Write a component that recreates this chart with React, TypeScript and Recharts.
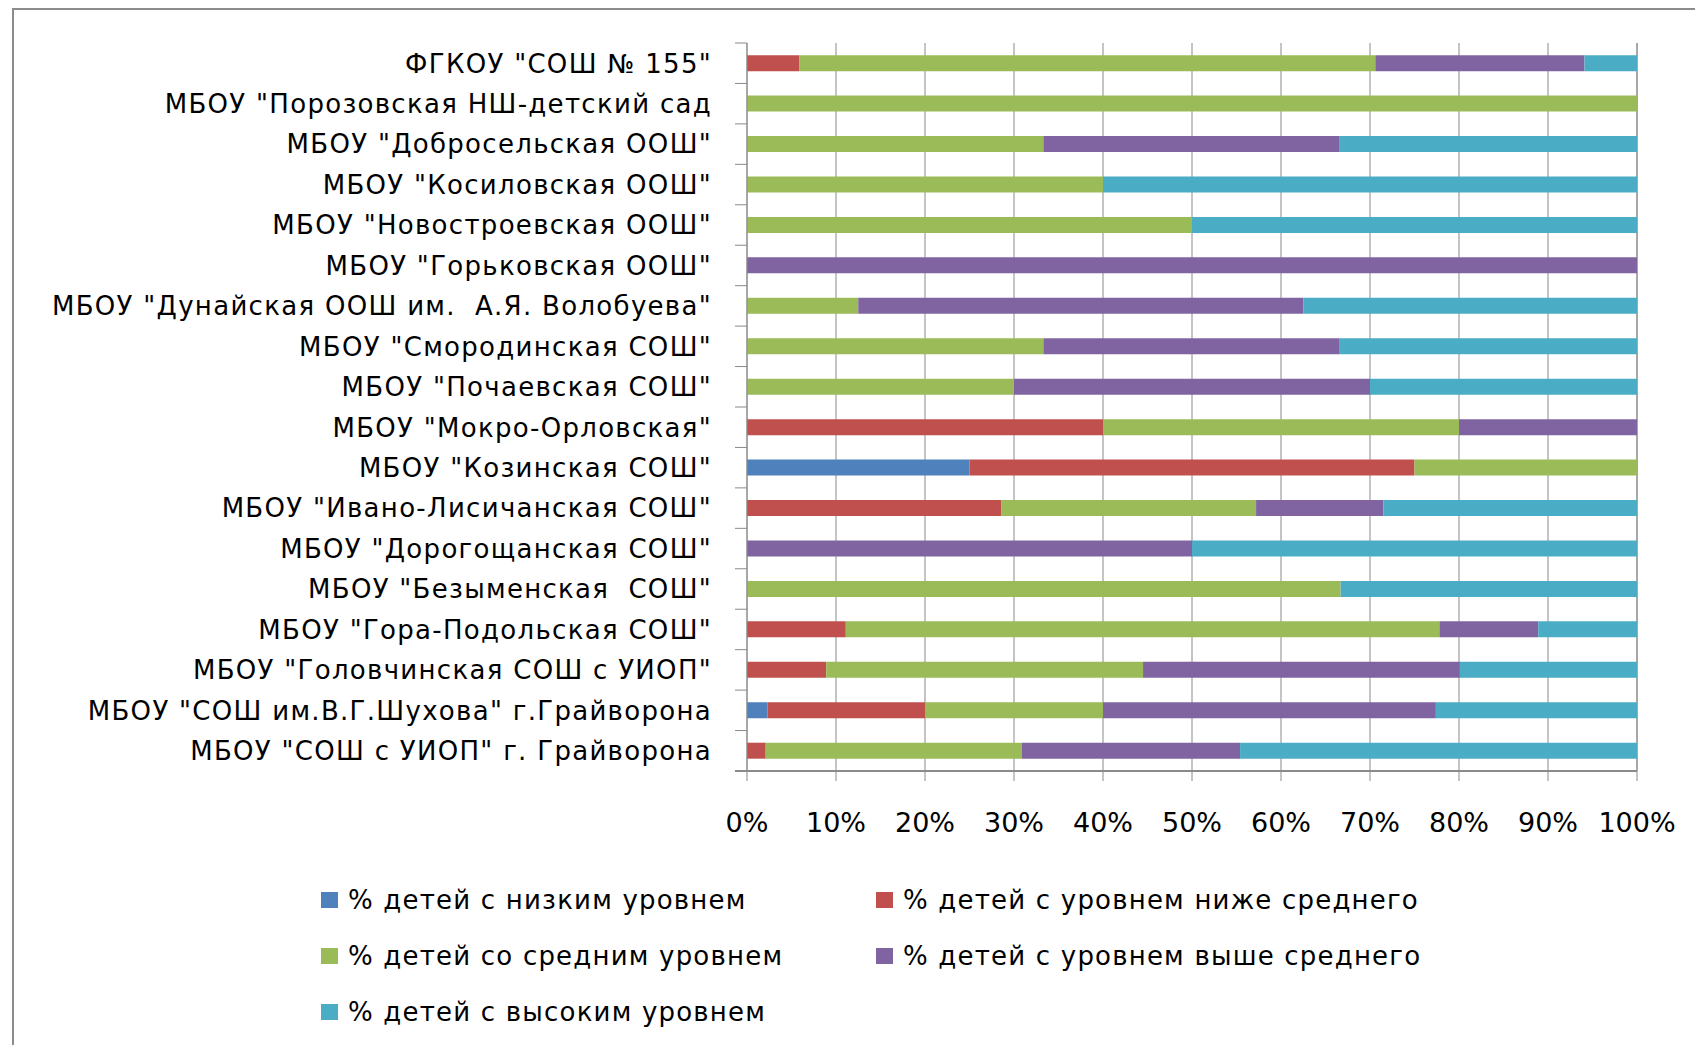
import { BarChart, Bar, XAxis, YAxis, CartesianGrid } from "recharts"

const categories = [
    'ФГКОУ "СОШ № 155"',
    'МБОУ "Порозовская НШ-детский сад',
    'МБОУ "Добросельская ООШ"',
    'МБОУ "Косиловская ООШ"',
    'МБОУ "Новостроевская ООШ"',
    'МБОУ "Горьковская ООШ"',
    'МБОУ "Дунайская ООШ им.  А.Я. Волобуева"',
    'МБОУ "Смородинская СОШ"',
    'МБОУ "Почаевская СОШ"',
    'МБОУ "Мокро-Орловская"',
    'МБОУ "Козинская СОШ"',
    'МБОУ "Ивано-Лисичанская СОШ"',
    'МБОУ "Дорогощанская СОШ"',
    'МБОУ "Безыменская  СОШ"',
    'МБОУ "Гора-Подольская СОШ"',
    'МБОУ "Головчинская СОШ с УИОП"',
    'МБОУ "СОШ им.В.Г.Шухова" г.Грайворона',
    'МБОУ "СОШ с УИОП" г. Грайворона',
]

const low = [0, 0, 0, 0, 0, 0, 0, 0, 0, 0, 25, 0, 0, 0, 0, 0, 2.3, 0]
const belowAvg = [5.9, 0, 0, 0, 0, 0, 0, 0, 0, 40, 50, 28.6, 0, 0, 11.1, 8.9, 17.7, 2.1]
const average = [64.7, 100, 33.3, 40, 50, 0, 12.5, 33.3, 30, 40, 25, 28.6, 0, 66.7, 66.7, 35.6, 20, 28.8]
const aboveAvg = [23.5, 0, 33.3, 0, 0, 100, 50, 33.3, 40, 20, 0, 14.3, 50, 0, 11.1, 35.6, 37.4, 24.5]
const high = [5.9, 0, 33.4, 60, 50, 0, 37.5, 33.4, 30, 0, 0, 28.5, 50, 33.3, 11.1, 19.9, 22.6, 44.6]

const xTicks = [0, 10, 20, 30, 40, 50, 60, 70, 80, 90, 100]

const series = [
    { key: "low", name: "% детей с низким уровнем", color: "#4F81BD" },
    { key: "belowAvg", name: "% детей с уровнем ниже среднего", color: "#C0504D" },
    { key: "average", name: "% детей со средним уровнем", color: "#9BBB59" },
    { key: "aboveAvg", name: "% детей с уровнем выше среднего", color: "#8064A2" },
    { key: "high", name: "% детей с высоким уровнем", color: "#4BACC6" },
]

const data = categories.map((name, i) => ({
    name,
    low: low[i],
    belowAvg: belowAvg[i],
    average: average[i],
    aboveAvg: aboveAvg[i],
    high: high[i],
}))

const FONT = "'DejaVu Sans', sans-serif"
const GRID = "#8a8a8a"
const PLOT_LEFT = 747
const PLOT_TOP = 43
const PLOT_BOTTOM = 771
const BAND = (PLOT_BOTTOM - PLOT_TOP) / categories.length

function CategoryTick(props: any) {
    const { y, payload, index } = props
    const last = index === categories.length - 1
    return (
        <g>
            <line x1={PLOT_LEFT - 12} x2={PLOT_LEFT} y1={y - BAND / 2} y2={y - BAND / 2} stroke={GRID} />
            {last && (
                <line x1={PLOT_LEFT - 12} x2={PLOT_LEFT} y1={y + BAND / 2} y2={y + BAND / 2} stroke={GRID} strokeWidth={2} />
            )}
            <text
                x={PLOT_LEFT - 35}
                y={y}
                dy="0.36em"
                textAnchor="end"
                fill="#000"
                style={{ fontFamily: FONT, fontSize: 26, letterSpacing: 1.3, whiteSpace: "pre" }}
            >
                {payload.value}
            </text>
        </g>
    )
}

export default function App() {
    const rows = [
        [series[0], series[1]],
        [series[2], series[3]],
        [series[4]],
    ]
    return (
        <div style={{ position: "absolute", left: 0, top: 0, width: 1695, height: 1045, background: "#fff", overflow: "hidden" }}>
            {/* frame */}
            <div style={{ position: "absolute", left: 12, top: 8, width: 1700, height: 1100, borderLeft: "2px solid #8c8c8c", borderTop: "2px solid #8c8c8c" }} />

            <div style={{ position: "absolute", left: 0, top: 0 }}>
                <BarChart
                    width={1695}
                    height={1045}
                    data={data}
                    layout="vertical"
                    barCategoryGap="30%"
                    margin={{ top: PLOT_TOP, right: 58, bottom: 1045 - PLOT_BOTTOM - 60, left: 0 }}
                >
                    <CartesianGrid horizontal={false} stroke={GRID} strokeDasharray="0" />
                    <XAxis
                        type="number"
                        domain={[0, 100]}
                        ticks={xTicks}
                        tickFormatter={(v) => v + "%"}
                        height={60}
                        tickSize={10}
                        tickMargin={32}
                        stroke={GRID}
                        axisLine={{ stroke: GRID, strokeWidth: 2 }}
                        tick={{ fill: "#000", fontSize: 27, fontFamily: FONT }}
                        interval={0}
                    />
                    <YAxis
                        type="category"
                        dataKey="name"
                        width={PLOT_LEFT}
                        tickLine={false}
                        axisLine={{ stroke: GRID }}
                        tick={<CategoryTick />}
                        interval={0}
                    />
                    {series.map((s) => (
                        <Bar key={s.key} dataKey={s.key} name={s.name} stackId="a" fill={s.color} isAnimationActive={false} />
                    ))}
                </BarChart>
            </div>

            {/* legend */}
            {rows.map((row, r) => (
                <div key={r} style={{ position: "absolute", top: 900 + r * 56 - 16, left: 0, height: 32 }}>
                    {row.map((s, c) => (
                        <div key={s.key} style={{ position: "absolute", left: c === 0 ? 321 : 876, top: 0, height: 32, display: "flex", alignItems: "center", whiteSpace: "nowrap" }}>
                            <span style={{ display: "inline-block", width: 17, height: 16, background: s.color, marginRight: 10 }} />
                            <span style={{ fontFamily: FONT, fontSize: 26, letterSpacing: 1.2, color: "#000" }}>{s.name}</span>
                        </div>
                    ))}
                </div>
            ))}
        </div>
    )
}
